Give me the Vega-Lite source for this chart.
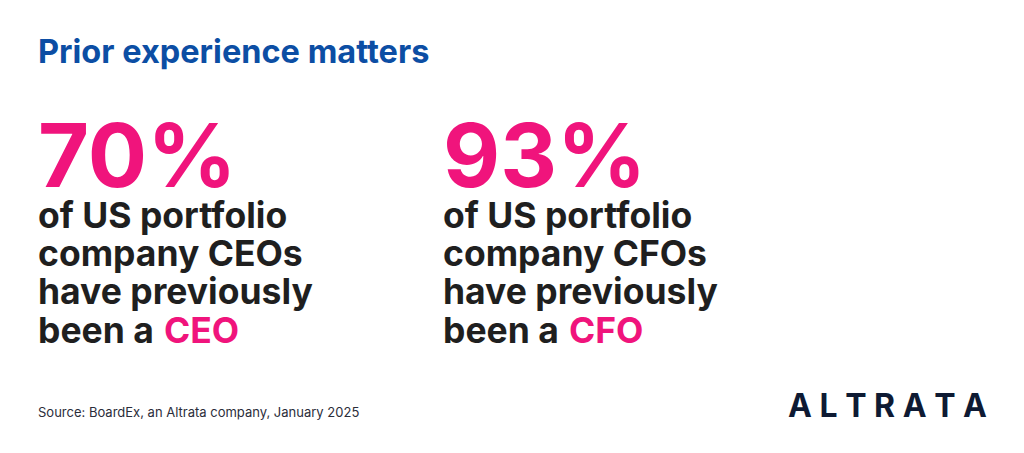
{
  "$schema": "https://vega.github.io/schema/vega-lite/v6.json",
  "width": 1024,
  "height": 453,
  "autosize": {"type": "fit", "contains": "padding"},
  "padding": {"top": 36, "left": 0, "right": 0, "bottom": 0},
  "background": "#ffffff",
  "config": {"view": {"stroke": null}},
  "title": {
    "text": "Prior experience matters",
    "anchor": "start",
    "dx": 38,
    "offset": 4,
    "font": "Inter",
    "fontSize": 32.5,
    "fontWeight": 700,
    "color": "#0c4ea4"
  },
  "data": {
    "values": [
      {"kind": "stat", "col": "CEO", "line": 0, "text": "70%"},
      {"kind": "desc", "col": "CEO", "line": 1, "text": "of US portfolio"},
      {"kind": "desc", "col": "CEO", "line": 2, "text": "company CEOs"},
      {"kind": "desc", "col": "CEO", "line": 3, "text": "have previously"},
      {"kind": "desc", "col": "CEO", "line": 4, "text": "been a"},
      {"kind": "highlight", "col": "CEO", "line": 4, "text": "CEO"},
      {"kind": "stat", "col": "CFO", "line": 0, "text": "93%"},
      {"kind": "desc", "col": "CFO", "line": 1, "text": "of US portfolio"},
      {"kind": "desc", "col": "CFO", "line": 2, "text": "company CFOs"},
      {"kind": "desc", "col": "CFO", "line": 3, "text": "have previously"},
      {"kind": "desc", "col": "CFO", "line": 4, "text": "been a"},
      {"kind": "highlight", "col": "CFO", "line": 4, "text": "CFO"},
      {"kind": "source", "col": "source", "line": 6, "text": "Source: BoardEx, an Altrata company, January 2025"},
      {"kind": "logo", "col": "logo", "line": 6, "text": "A L T R A T A"}
    ]
  },
  "layer": [
    {
      "transform": [{"filter": "datum.kind === 'stat'"}],
      "mark": {"type": "text", "align": "left", "baseline": "alphabetic", "dy": -2, "font": "Inter", "fontWeight": 700, "fontSize": 88, "color": "#f0147c"},
      "encoding": {
        "x": {"field": "col", "type": "nominal", "scale": {"type": "point", "padding": 0, "domain": ["CEO", "CFO"], "range": [38, 443]}, "axis": null},
        "y": {"field": "line", "type": "quantitative", "scale": {"domain": [1, 4], "range": [154.5, 269.5]}, "axis": null},
        "text": {"field": "text"}
      }
    },
    {
      "transform": [{"filter": "datum.kind === 'desc'"}],
      "mark": {"type": "text", "align": "left", "baseline": "alphabetic", "font": "Inter", "fontWeight": 700, "fontSize": 35.5, "color": "#1f1f1f"},
      "encoding": {
        "x": {"field": "col", "type": "nominal", "scale": {"type": "point", "padding": 0, "domain": ["CEO", "CFO"], "range": [38, 443]}, "axis": null},
        "y": {"field": "line", "type": "quantitative", "scale": {"domain": [1, 4], "range": [154.5, 269.5]}, "axis": null},
        "text": {"field": "text"}
      }
    },
    {
      "transform": [{"filter": "datum.kind === 'highlight'"}],
      "mark": {"type": "text", "align": "left", "baseline": "alphabetic", "dx": 126, "font": "Inter", "fontWeight": 700, "fontSize": 35.5, "color": "#f0147c"},
      "encoding": {
        "x": {"field": "col", "type": "nominal", "scale": {"type": "point", "padding": 0, "domain": ["CEO", "CFO"], "range": [38, 443]}, "axis": null},
        "y": {"field": "line", "type": "quantitative", "scale": {"domain": [1, 4], "range": [154.5, 269.5]}, "axis": null},
        "text": {"field": "text"}
      }
    },
    {
      "transform": [{"filter": "datum.kind === 'source'"}],
      "mark": {"type": "text", "align": "left", "baseline": "alphabetic", "dy": -2, "font": "Inter", "fontWeight": 400, "fontSize": 13, "color": "#2b2d3a"},
      "encoding": {
        "x": {"field": "col", "type": "nominal", "scale": {"type": "point", "padding": 0, "domain": ["source", "logo"], "range": [38, 987]}, "axis": null},
        "y": {"field": "line", "type": "quantitative", "scale": {"domain": [1, 4], "range": [154.5, 269.5]}, "axis": null},
        "text": {"field": "text"}
      }
    },
    {
      "transform": [{"filter": "datum.kind === 'logo'"}],
      "mark": {"type": "text", "align": "right", "baseline": "alphabetic", "dy": -2, "font": "Inter", "fontWeight": 700, "fontSize": 32, "color": "#0e1a33"},
      "encoding": {
        "x": {"field": "col", "type": "nominal", "scale": {"type": "point", "padding": 0, "domain": ["source", "logo"], "range": [38, 987]}, "axis": null},
        "y": {"field": "line", "type": "quantitative", "scale": {"domain": [1, 4], "range": [154.5, 269.5]}, "axis": null},
        "text": {"field": "text"}
      }
    }
  ],
  "resolve": {"scale": {"x": "independent", "y": "independent"}}
}
